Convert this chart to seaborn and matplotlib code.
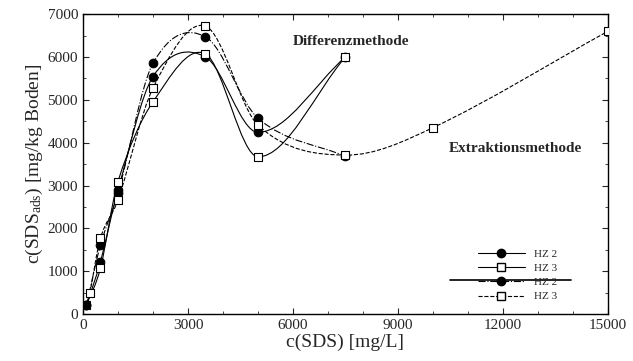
import numpy as np
import pandas as pd
import matplotlib
matplotlib.use("Agg")
import matplotlib.pyplot as plt
import seaborn as sns
from matplotlib.path import Path
from matplotlib.patches import PathPatch
from matplotlib.lines import Line2D
from matplotlib.ticker import MultipleLocator

# Differenzmethode
diff_hz2_x = [100, 500, 1000, 2000, 3500, 5000, 7500]
diff_hz2_y = [200, 1220, 2890, 5540, 6000, 4240, 6000]
diff_hz3_x = [100, 500, 1000, 2000, 3500, 5000, 7500]
diff_hz3_y = [210, 1070, 3090, 4950, 6070, 3670, 6000]

# Extraktionsmethode
ext_hz2_x = [100, 500, 1000, 2000, 3500, 5000, 7500]
ext_hz2_y = [200, 1610, 2820, 5850, 6470, 4570, 3680]
ext_hz3_x = [200, 500, 1000, 2000, 3500, 5000, 7500, 10000, 15000]
ext_hz3_y = [490, 1770, 2660, 5270, 6720, 4410, 3710, 4350, 6600]

legend_labels = ["HZ 2", "HZ 3", "HZ 2", "HZ 3"]

sns.set_style("ticks")
plt.rcParams["font.family"] = ["Liberation Serif", "DejaVu Serif"]
plt.rcParams["mathtext.fontset"] = "custom"
plt.rcParams["mathtext.rm"] = "Liberation Serif"
plt.rcParams["mathtext.it"] = "Liberation Serif"


def smooth_path(xs, ys):
    # cubic hermite curve through the points, drawn as bezier segments
    xs = np.asarray(xs, float)
    ys = np.asarray(ys, float)
    n = len(xs)
    m = np.zeros(n)
    for i in range(n):
        if i == 0:
            m[i] = (ys[1] - ys[0]) / (xs[1] - xs[0])
        elif i == n - 1:
            m[i] = (ys[-1] - ys[-2]) / (xs[-1] - xs[-2])
        else:
            m[i] = (ys[i + 1] - ys[i - 1]) / (xs[i + 1] - xs[i - 1])
    verts = [(xs[0], ys[0])]
    codes = [Path.MOVETO]
    for i in range(n - 1):
        h = xs[i + 1] - xs[i]
        verts += [(xs[i] + h / 3, ys[i] + m[i] * h / 3),
                  (xs[i + 1] - h / 3, ys[i + 1] - m[i + 1] * h / 3),
                  (xs[i + 1], ys[i + 1])]
        codes += [Path.CURVE4] * 3
    return Path(verts, codes)


fig, ax = plt.subplots(figsize=(6.33, 3.61), dpi=100)
fig.subplots_adjust(left=0.131, right=0.9605, top=0.961, bottom=0.130)

series = [
    (diff_hz2_x, diff_hz2_y, "-", "o", "black"),
    (diff_hz3_x, diff_hz3_y, "-", "s", "white"),
    (ext_hz2_x, ext_hz2_y, "-.", "o", "black"),
    (ext_hz3_x, ext_hz3_y, "--", "s", "white"),
]

for xs, ys, ls, mk, fc in series:
    ax.add_patch(PathPatch(smooth_path(xs, ys), facecolor="none",
                           edgecolor="black", lw=0.8, linestyle=ls, zorder=2))
    df = pd.DataFrame({"x": xs, "y": ys})
    sns.scatterplot(data=df, x="x", y="y", marker=mk, s=38, color=fc,
                    edgecolor="black", linewidth=0.8, ax=ax, zorder=3)

ax.set_xlim(0, 15000)
ax.set_ylim(0, 7000)
ax.xaxis.set_major_locator(MultipleLocator(3000))
ax.xaxis.set_minor_locator(MultipleLocator(1000))
ax.yaxis.set_major_locator(MultipleLocator(1000))
ax.yaxis.set_minor_locator(MultipleLocator(500))
ax.tick_params(which="both", direction="in", top=True, right=True)
ax.tick_params(which="major", length=4, labelsize=11)
ax.tick_params(which="minor", length=2)
for sp in ax.spines.values():
    sp.set_linewidth(1.0)
    sp.set_color("black")

ax.set_xlabel("c(SDS) [mg/L]", fontsize=14, labelpad=1)
ax.set_ylabel(r"c(SDS$_{\rm ads}$) [mg/kg Boden]", fontsize=14, labelpad=2)

ax.text(7650, 6350, "Differenzmethode", fontsize=11, fontweight="bold",
        ha="center", va="center")
ax.text(12350, 3870, "Extraktionsmethode", fontsize=11, fontweight="bold",
        ha="center", va="center")

handles = [
    Line2D([], [], color="black", lw=0.8, ls="-", marker="o", ms=6,
           mfc="black", mec="black"),
    Line2D([], [], color="black", lw=0.8, ls="-", marker="s", ms=6,
           mfc="white", mec="black"),
    Line2D([], [], color="black", lw=0.8, ls="-.", marker="o", ms=6,
           mfc="black", mec="black"),
    Line2D([], [], color="black", lw=0.8, ls="--", marker="s", ms=6,
           mfc="white", mec="black"),
]
ax.legend(handles, legend_labels, loc="lower right", frameon=False,
          fontsize=8, handlelength=4.2, labelspacing=0.4,
          bbox_to_anchor=(0.915, 0.02), borderaxespad=0.2)
ax.add_line(Line2D([0.70, 0.93], [0.113, 0.113], transform=ax.transAxes,
                   color="black", lw=1.2))

fig.savefig("out.png", dpi=100)
